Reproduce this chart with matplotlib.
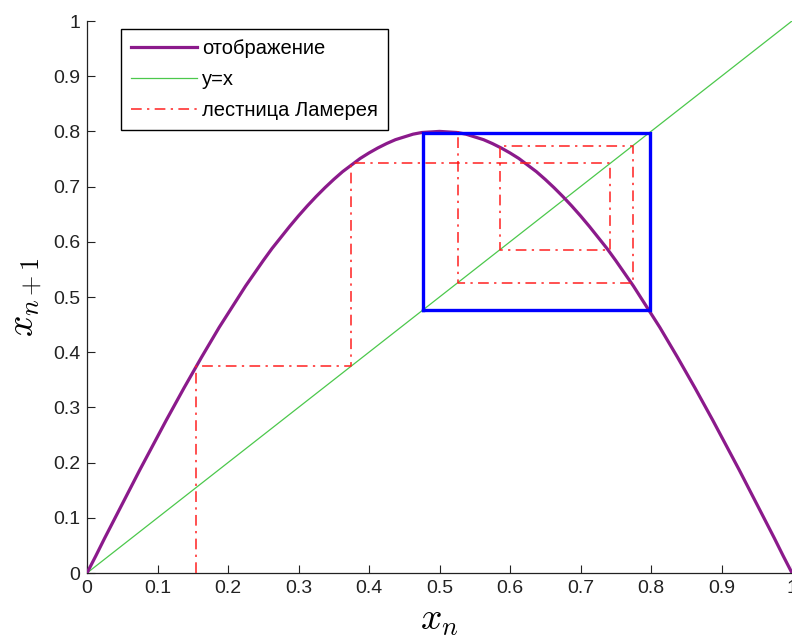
import matplotlib
matplotlib.use("Agg")
import matplotlib.pyplot as plt

# map x -> f(x), sampled every 0.0125 (left half, the right half mirrors it)
map_x = [i / 80 for i in range(81)]
map_half = [0.000, 0.031, 0.063, 0.094, 0.125, 0.156, 0.187, 0.217, 0.247, 0.277,
            0.306, 0.335, 0.363, 0.391, 0.418, 0.445, 0.470, 0.495, 0.520, 0.543,
            0.566, 0.588, 0.608, 0.628, 0.647, 0.665, 0.682, 0.698, 0.713, 0.727,
            0.739, 0.751, 0.761, 0.770, 0.778, 0.785, 0.790, 0.795, 0.798, 0.799]
map_y = map_half + [0.800] + map_half[::-1]

diag_x = [0.0, 1.0]
diag_y = [0.0, 1.0]

# Lamerey staircase starting from x0 = 0.155
cobweb_x = [0.155, 0.155, 0.375, 0.375, 0.742, 0.742, 0.586, 0.586, 0.774, 0.774, 0.526, 0.526]
cobweb_y = [0.000, 0.375, 0.375, 0.742, 0.742, 0.586, 0.586, 0.774, 0.774, 0.526, 0.526, 0.800]

# limit 2-cycle box
cycle_lo = 0.477
cycle_hi = 0.798
box_x = [cycle_lo, cycle_hi, cycle_hi, cycle_lo, cycle_lo]
box_y = [cycle_lo, cycle_lo, cycle_hi, cycle_hi, cycle_lo]

ticks = [i / 10 for i in range(11)]
tick_labels = ["0"] + [f"{t:g}" for t in ticks[1:-1]] + ["1"]

plt.rcParams["font.family"] = ["Liberation Sans", "DejaVu Sans"]
plt.rcParams["mathtext.fontset"] = "cm"

fig = plt.figure(figsize=(7.92, 6.38), dpi=100)
ax = fig.add_axes([87 / 792, 65 / 638, 705 / 792, 552 / 638])

ax.plot(map_x, map_y, color="#8b1a8b", lw=2.3, label="отображение", zorder=3)
ax.plot(diag_x, diag_y, color="#4cc84c", lw=0.9, label="y=x", zorder=2)
ax.plot(cobweb_x, cobweb_y, color="#ff2020", lw=1.1,
        linestyle=(0, (7, 3.5, 1.5, 3.5)), label="лестница Ламерея", zorder=4)
ax.plot(box_x, box_y, color="#0000ff", lw=2.4, zorder=5, solid_joinstyle="miter")

ax.set_xlim(0, 1)
ax.set_ylim(0, 1)
ax.set_xticks(ticks)
ax.set_yticks(ticks)
ax.set_xticklabels(tick_labels)
ax.set_yticklabels(tick_labels)
ax.tick_params(direction="in", length=6, width=0.8, labelsize=14, pad=5, colors="#222222")
ax.spines["top"].set_visible(False)
ax.spines["right"].set_visible(False)
for side in ("left", "bottom"):
    ax.spines[side].set_linewidth(0.9)
    ax.spines[side].set_color("#222222")

ax.set_xlabel("$x_n$", fontsize=27, labelpad=4)
ax.set_ylabel("$x_{n+1}$", fontsize=27, labelpad=6)

leg = ax.legend(loc="upper left", bbox_to_anchor=(0.048, 0.986), borderaxespad=0,
                fontsize=14.5, handlelength=3.3, handletextpad=0.25,
                labelspacing=0.6, borderpad=0.5, fancybox=False, framealpha=1)
leg.get_frame().set_edgecolor("black")
leg.get_frame().set_linewidth(1.0)

fig.savefig("out.png", dpi=100)
